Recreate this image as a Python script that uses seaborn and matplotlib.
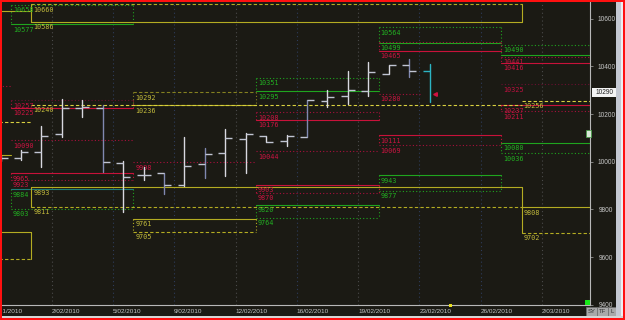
import numpy as np
import pandas as pd
import matplotlib
matplotlib.use("Agg")
import matplotlib.pyplot as plt
import matplotlib.transforms as mtransforms
from matplotlib.patches import Rectangle
import seaborn as sns

# ---------------- data ----------------
date_labels = ["29/01/2010", "2/02/2010", "5/02/2010", "9/02/2010", "12/02/2010",
               "16/02/2010", "19/02/2010", "23/02/2010", "26/02/2010", "2/03/2010"]
date_pos = [-0.5, 2.5, 5.5, 8.5, 11.5, 14.5, 17.5, 20.5, 23.5, 26.5]

bar_open = [10020, 10014, 10039, 10115, 10225, 10227, 9993, 9946, 9951, 9902, 9990,
            10035, 10094, 10108, 10086, 10102, 10256, 10276, 10298, 10368, 10405, 10379]
bar_high = [10030, 10049, 10150, 10262, 10259, 10238, 10003, 9979, 9951, 10102, 10056,
            10136, 10119, 10108, 10112, 10259, 10301, 10382, 10417, 10406, 10430, 10410]
bar_low = [10005, 10007, 9979, 10105, 10189, 9958, 9790, 9923, 9864, 9899, 9930,
           9941, 9951, 10081, 10067, 10102, 10231, 10242, 10277, 10368, 10354, 10252]
bar_close = [10014, 10039, 10108, 10227, 10228, 9999, 9935, 9944, 9902, 9983, 10032,
             10098, 10115, 10081, 10109, 10259, 10273, 10301, 10376, 10406, 10379, 10290]
last_price = 10290
last_marker = 10286
last_marker_label = "10280"

y_ticks = [9400, 9600, 9800, 10000, 10200, 10400, 10600]

week_edges = [-5.5, 0.5, 6.5, 12.5, 18.5, 24.5, 30.5]
month_edges = [-30.5, 1.5, 25.5, 40.5]

green_r2 = [None, 10658, None, 10351, 10564, 10490]
green_r1 = [None, 10577, None, 10295, 10499, 10448]
green_s1 = [None, 9884, None, 9820, 9943, 10080]
green_s2 = [None, 9803, None, 9764, 9877, 10036]
red_r2 = [10318, 10257, None, 10208, 10503, 10441]
red_r1 = [None, 10225, None, 10176, 10465, 10416]
red_pp = [None, 10090, 9998, 10044, None, 10325]
red_s1 = [None, 9952, None, 9903, 10111, 10237]
red_s2 = [None, 9923, None, 9870, 10069, 10211]
yel_wk_r2 = [None, None, 10292, None, None, None]
yel_wk_r1 = [None, None, 10236, None, None, None]
yel_wk_s1 = [10028, None, 9761, None, None, None]
yel_wk_s2 = [None, None, 9705, None, None, None]
yel_mo_r2 = [None, 10660, 10704]
yel_mo_r1 = [10632, 10586, None]
yel_mo_pp = [10167, 10240, 10256]
yel_mo_s1 = [9706, 9893, 9808]
yel_mo_s2 = [9592, 9811, 9702]

label_override = {("red_s1", 1): "9965"}
no_label = {("green_r1", 5), ("red_r2", 4)}

# ---------------- style ----------------
BG = "#1b1a14"
COL = {"g": "#1fa51f", "t": "#1c7c78", "r": "#a8103c", "rs": "#c8123a", "rd": "#6a1030",
       "y": "#b4ac22", "yb": "#d8d040", "yd": "#848020"}
LABCOL = {"g": "#22b022", "t": "#22b022", "r": "#cc1442", "rs": "#cc1442", "rd": "#c01040",
          "y": "#c4bc3c", "yb": "#c4bc3c", "yd": "#c4bc3c"}
DASH = {"solid": "", "dot": (1, 2), "dash": (3, 2)}

series = {
    "green_r2": (green_r2, "g", "dot", "w"), "green_r1": (green_r1, "g", "solid", "w"),
    "green_s1": (green_s1, "g", "solid", "w"), "green_s2": (green_s2, "g", "dot", "w"),
    "red_r2": (red_r2, "r", "dot", "w"), "red_r1": (red_r1, "rs", "solid", "w"),
    "red_pp": (red_pp, "r", "dot", "w"), "red_s1": (red_s1, "rs", "solid", "w"),
    "red_s2": (red_s2, "r", "dot", "w"),
    "yel_wk_r2": (yel_wk_r2, "yd", "dash", "w"), "yel_wk_r1": (yel_wk_r1, "y", "solid", "w"),
    "yel_wk_s1": (yel_wk_s1, "y", "solid", "w"), "yel_wk_s2": (yel_wk_s2, "y", "dash", "w"),
    "yel_mo_r2": (yel_mo_r2, "y", "dash", "m"), "yel_mo_r1": (yel_mo_r1, "y", "solid", "m"),
    "yel_mo_pp": (yel_mo_pp, "yb", "dash", "m"), "yel_mo_s1": (yel_mo_s1, "y", "solid", "m"),
    "yel_mo_s2": (yel_mo_s2, "y", "dash", "m"),
}
color_override = {("red_r2", 1): "rd", ("red_pp", 5): "rd", ("green_s1", 1): "t"}
pairs = [("green_r2", "green_r1", "dot"), ("green_s1", "green_s2", "dot"),
         ("red_r2", "red_r1", "dot"), ("red_s1", "red_s2", "dot"),
         ("yel_wk_r2", "yel_wk_r1", "dot"), ("yel_wk_s1", "yel_wk_s2", "dot"),
         ("yel_mo_r2", "yel_mo_r1", "solid"), ("yel_mo_s1", "yel_mo_s2", "solid")]

# ---------------- build segment table ----------------
rows = []
labels = []
seg_id = [0]


def add_seg(x0, x1, y0, y1, c, d):
    kind = c + "|" + d
    rows.append((seg_id[0], x0, y0, kind))
    rows.append((seg_id[0], x1, y1, kind))
    seg_id[0] += 1


for name, (vals, c, d, per) in series.items():
    edges = week_edges if per == "w" else month_edges
    for i, v in enumerate(vals):
        if v is None:
            continue
        cc = color_override.get((name, i), c)
        x0, x1 = edges[i], edges[i + 1]
        add_seg(x0, x1, v, v, cc, d)
        if (name, i) not in no_label:
            labels.append((x0, v, label_override.get((name, i), str(v)), LABCOL[cc]))

for a, b, d in pairs:
    va, ca, _, per = series[a]
    vb = series[b][0]
    edges = week_edges if per == "w" else month_edges
    for i in range(len(va)):
        if va[i] is None or vb[i] is None:
            continue
        for xe in (edges[i], edges[i + 1]):
            add_seg(xe, xe, va[i], vb[i], ca, d)

# current price marker line (week start to last bar)
add_seg(week_edges[4], len(bar_close) - 1 - 0.45, last_marker, last_marker, "r", "dot")
labels.append((week_edges[4], last_marker, last_marker_label, LABCOL["r"]))

lev = pd.DataFrame(rows, columns=["seg", "x", "price", "kind"])
kinds = sorted(lev["kind"].unique())
palette = {k: COL[k.split("|")[0]] for k in kinds}
dashes = {k: DASH[k.split("|")[1]] for k in kinds}

# ---------------- figure ----------------
sns.set_theme(style="dark")
plt.rcParams["font.family"] = ["Liberation Sans", "DejaVu Sans"]

W, H = 625, 320
fig = plt.figure(figsize=(W / 100, H / 100), dpi=100, facecolor=BG)
ax = fig.add_axes([2 / W, 15 / H, 588 / W, 303 / H])
ax.set_facecolor(BG)
ax.set_xlim(0.07, 28.85)
ax.set_ylim(9398.6, 10670.2)

# vertical grid
grid_cols = ["#4a4a4a", "#4a4a4a", "#2e3c5a", "#2e3c5a", "#4a4a4a", "#2e3c5a",
             "#4a4a4a", "#2e3c5a", "#2e3c5a", "#4a4a4a"]
for xp, gc in zip(date_pos, grid_cols):
    ax.axvline(xp, color=gc, lw=0.8, ls=(0, (1, 2.5)), zorder=0.5)

# level lines via seaborn
sns.lineplot(data=lev, x="x", y="price", units="seg", estimator=None, hue="kind",
             style="kind", palette=palette, dashes=dashes, legend=False, sort=False,
             lw=0.8, ax=ax, zorder=2)

# labels
off = mtransforms.ScaledTranslation(2.0 / 100, -2.4 / 100, fig.dpi_scale_trans)
for x0, v, txt, c in labels:
    ax.text(x0, v, txt, transform=ax.transData + off, ha="left", va="top",
            fontsize=4.9, family="DejaVu Sans Mono", color=c, clip_on=True, zorder=3)

# OHLC bars
n = len(bar_close)
pos = np.arange(n)
tone = ["w"] * n
for k in (5, 8, 10, 15, 20):
    tone[k] = "b"
tone[n - 1] = "c"
tone_col = {"w": "#d8d8e0", "b": "#8088b0", "c": "#2cb4c4"}
bars_long = pd.DataFrame({
    "bar": np.repeat(pos, 2),
    "x": np.repeat(pos, 2).astype(float),
    "y": np.column_stack([bar_low, bar_high]).ravel(),
    "tone": np.repeat(tone, 2),
})
sns.lineplot(data=bars_long, x="x", y="y", units="bar", estimator=None, hue="tone",
             palette=tone_col, legend=False, sort=False, lw=1.0, ax=ax, zorder=4)
tick_c = ["#c0c4d2"] * n
tick_c[n - 1] = tone_col["c"]
ax.hlines(bar_open, pos - 0.34, pos, colors=tick_c, lw=1.0, zorder=4)
ax.hlines(bar_close[:-1], pos[:-1], pos[:-1] + 0.34, colors=tick_c[:-1], lw=1.0, zorder=4)
ax.plot([n - 1 + 0.25], [last_marker], marker="<", ms=2.6, color="#d01040",
        mec="#d01040", zorder=5)

# axes styling
ax.set_xlabel("")
ax.set_ylabel("")
ax.set_xticks([])
for s in ("top", "left"):
    ax.spines[s].set_visible(False)
for s in ("right", "bottom"):
    ax.spines[s].set_visible(True)
    ax.spines[s].set_color("#b8b8b8")
    ax.spines[s].set_linewidth(0.8)
ax.yaxis.tick_right()
ax.set_yticks(y_ticks)
ax.set_yticklabels([str(t) for t in y_ticks])
ax.tick_params(axis="y", right=True, left=False, labelright=True, labelleft=False,
               length=2.2, width=0.6, color="#909090", pad=9.5, labelsize=4.7,
               labelcolor="#c8c8c8")
for t in ax.get_yticklabels():
    t.set_ha("center")
ax.grid(False)

# date labels
doff = mtransforms.ScaledTranslation(0, -4.0 / 100, fig.dpi_scale_trans)
dtrans = mtransforms.blended_transform_factory(ax.transData, ax.transAxes) + doff
for xp, lab in zip(date_pos, date_labels):
    ax.text(xp, 0, lab, transform=dtrans, ha="left", va="top", fontsize=4.6,
            color="#c4c4c4", clip_on=False)


# ---------------- window chrome (pixel coords, top-down) ----------------
def px_rect(x0, y0, x1, y1, fc, ec="none", lw=0, z=5):
    r = Rectangle((x0 / W, 1 - y1 / H), (x1 - x0) / W, (y1 - y0) / H,
                  transform=fig.transFigure, facecolor=fc, edgecolor=ec, lw=lw, zorder=z)
    fig.add_artist(r)


# current price box
yp = 161.7 - (last_price - 10000) * 0.2383
px_rect(592, yp - 4.3, 618, yp + 4.3, "#f4f4f4")
fig.text(605 / W, 1 - yp / H, str(last_price), ha="center", va="center", fontsize=4.7,
         color="#202020", zorder=6)
# small marker icon
px_rect(586, 130, 591, 136.5, "#d8e8d8", ec="#40a040", lw=0.5)
# green square bottom right
px_rect(585, 299.5, 590, 305, "#18e818")
# yellow dot on time axis
px_rect(449, 303.5, 452, 306.5, "#e8e020")
# SY TF L buttons
for (bx0, bx1, t) in ((586, 597, "SY"), (597, 608, "TF"), (608, 617, "L")):
    px_rect(bx0, 307, bx1, 316, "#a8a8a8", ec="#707070", lw=0.5)
    fig.text((bx0 + bx1) / 2 / W, 1 - 311.5 / H, t, ha="center", va="center",
             fontsize=4.2, color="#303030", zorder=6)
# scrollbar
px_rect(615.5, 0, 620.5, 316, "#c4c8d2")
px_rect(620.5, 0, 622.5, 316, "#eceef2")
# bottom line + red border
px_rect(0, 315.5, 625, 317.5, "#d4d4d4")
px_rect(0, 317.5, 625, 320, "#ff1010")
px_rect(0, 0, 625, 1.5, "#ff1010")
px_rect(0, 0, 1.8, 320, "#ff1010")
px_rect(622.5, 0, 625, 320, "#ff1010")

fig.savefig("out.png", dpi=100, facecolor=BG)
